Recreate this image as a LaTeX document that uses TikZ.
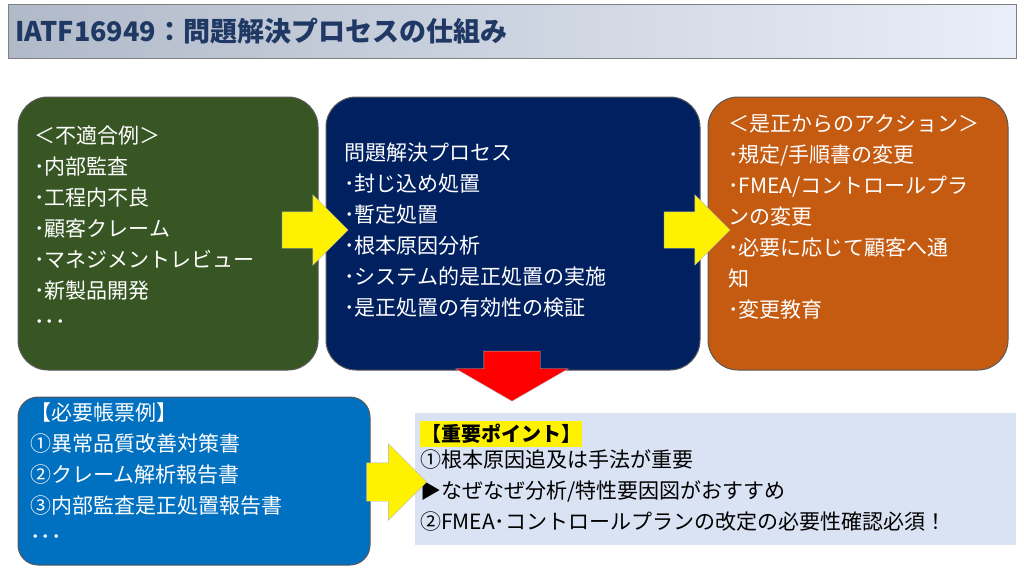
\documentclass[tikz,border=0pt]{standalone}
\usepackage{fontspec}
\setmainfont{Noto Sans CJK JP}
\usetikzlibrary{shapes.arrows}
\definecolor{gr}{HTML}{375623}
\definecolor{nv}{HTML}{002060}
\definecolor{org}{HTML}{C55A11}
\definecolor{bl}{HTML}{0070C0}
\definecolor{lb}{HTML}{DAE3F3}
\definecolor{tt}{HTML}{1F3864}
\begin{document}
\begin{tikzpicture}[x=1pt,y=-1pt,
  box/.style={rounded corners=30pt,draw=gray!70!black,line width=1pt},
  txt/.style={text=white,font=\fontsize{21}{31}\selectfont,align=left,anchor=north west,inner sep=0pt},
  yarr/.style={single arrow,fill=yellow,draw=gray!60,minimum height=66pt,single arrow head extend=17pt,single arrow tip angle=90,inner xsep=0pt,inner ysep=18pt,shape border uses incircle=false}]
\useasboundingbox (0,0) rectangle (1024,576);
\fill[white] (0,0) rectangle (1024,576);
\shade[left color=tt!35!white,right color=lb!60!white,draw=gray] (8,4) rectangle (1016,58);
\node[anchor=west,text=tt,font=\fontsize{27}{27}\selectfont\bfseries] (title) at (12,31) {IATF16949：問題解決プロセスの仕組み};
\draw[box,fill=gr] (18,97) rectangle (318,370);
\draw[box,fill=nv] (326,97) rectangle (700,370);
\draw[box,fill=org] (708,97) rectangle (1008,370);
\draw[box,rounded corners=20pt,fill=bl] (18,397) rectangle (370,565);
\fill[lb] (415,413) rectangle (1016,545);
\node[txt] (t1) at (34,126) {＜不適合例＞\\･内部監査\\･工程内不良\\･顧客クレーム\\･マネジメントレビュー\\･新製品開発\\･･･};
\node[txt] (t2) at (344,143) {問題解決プロセス\\･封じ込め処置\\･暫定処置\\･根本原因分析\\･システム的是正処置の実施\\･是正処置の有効性の検証};
\node[txt] (t3) at (728,114) {＜是正からのアクション＞\\･規定/手順書の変更\\･FMEA/コントロールプラ\\ンの変更\\･必要に応じて顧客へ通\\知\\･変更教育};
\node[txt] (t4) at (30,403) {【必要帳票例】\\①異常品質改善対策書\\②クレーム解析報告書\\③内部監査是正処置報告書\\･･･};
\node[anchor=north west,inner sep=0pt,text=black,font=\fontsize{20}{31}\selectfont] (t5) at (420,421) {\colorbox{yellow}{\kern-2pt\bfseries【重要ポイント】\kern-2pt}};
\node[txt,text=black] (t6) at (420,450) {①根本原因追及は手法が重要\\▶なぜなぜ分析/特性要因図がおすすめ\\②FMEA･コントロールプランの改定の必要性確認必須！};
\node[yarr] (a1) at (306,230) {};
\node[yarr] (a2) at (688,230) {};
\node[yarr,minimum height=60pt,inner ysep=19pt,single arrow head extend=19pt] (a4) at (387,482) {};
\node[single arrow,fill=red,draw=gray!60,rotate=-90,minimum height=50pt,inner xsep=0pt,inner ysep=28pt,single arrow head extend=28pt,single arrow tip angle=120,shape border uses incircle=false] (a3) at (512,368) {};
\end{tikzpicture}
\end{document}
